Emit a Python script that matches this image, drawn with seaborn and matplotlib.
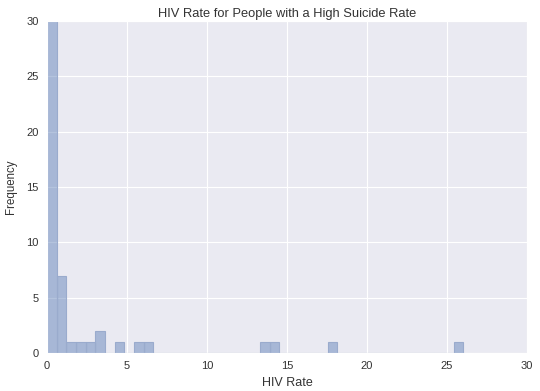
import numpy as np
import pandas as pd
import matplotlib
matplotlib.use("Agg")
import matplotlib.pyplot as plt
import seaborn as sns

# HIV rate histogram, counts per bin
bin_width = 0.605
n_bins = 43
bin_index = [0, 1, 2, 3, 4, 5, 7, 9, 10, 22, 23, 29, 42]
bin_counts = [30, 7, 1, 1, 1, 2, 1, 1, 1, 1, 1, 1, 1]

df = pd.DataFrame({"hiv": (np.array(bin_index) + 0.5) * bin_width,
                   "count": bin_counts})

sns.set_style("darkgrid")
plt.rcParams['font.family'] = ['Liberation Sans', 'DejaVu Sans']

fig = plt.figure(figsize=(5.4, 3.91), dpi=100)
ax = fig.add_axes([0.087, 0.097, 0.889, 0.849])

sns.histplot(data=df, x="hiv", weights="count", binwidth=bin_width,
             binrange=(0, n_bins * bin_width), ax=ax,
             color="#4C72B0", alpha=0.42, edgecolor="#9aabcd", linewidth=0.8)

ax.set_xlim(0, 30)
ax.set_ylim(0, 30)
ax.set_xticks(range(0, 31, 5))
ax.set_yticks(range(0, 31, 5))
ax.tick_params(labelsize=8, colors="#333333", length=0, pad=6)
ax.set_xlabel("HIV Rate", fontsize=9, color="#333333", labelpad=4)
ax.set_ylabel("Frequency", fontsize=8.3, color="#333333", labelpad=7)
ax.set_title("HIV Rate for People with a High Suicide Rate", fontsize=9.3, color="#333333", pad=3)

fig.savefig("out.png", dpi=100)
